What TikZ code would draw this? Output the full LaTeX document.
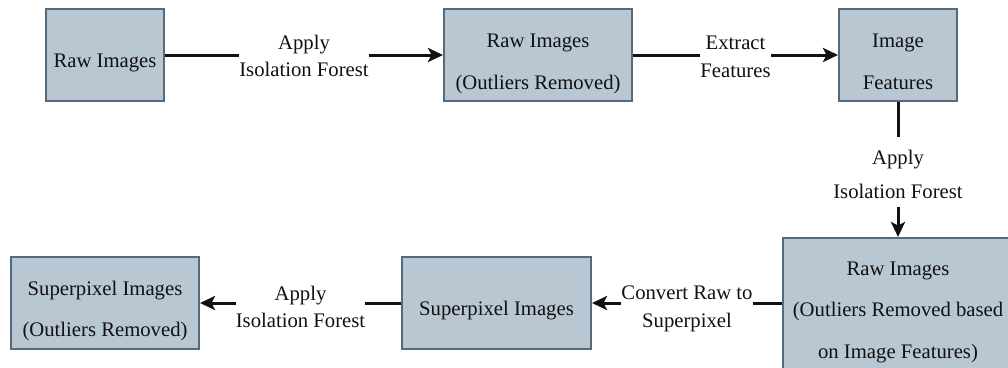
\documentclass[tikz,border=0pt]{standalone}
\usepackage{fontspec}
\setmainfont{Liberation Serif}
\usetikzlibrary{arrows.meta}
\definecolor{boxfill}{HTML}{B9C7D3}
\definecolor{boxline}{HTML}{566A7E}
\definecolor{ink}{HTML}{111111}
\newcommand\upS[1]{\rule{0pt}{#1pt}}
\newcommand\dnS[1]{\rule[-#1pt]{0pt}{#1pt}}
\begin{document}
\begin{tikzpicture}[x=1pt,y=-1pt,
  box/.style={draw=boxline, line width=2pt, fill=boxfill, inner sep=0pt, align=center, text=ink},
  lbl/.style={fill=white, inner sep=0pt, align=center, text=ink},
  conn/.style={draw=ink, line width=3pt, -{Stealth[length=15pt,width=14pt,inset=3.5pt]}},
]
\useasboundingbox (0,0) rectangle (1008,367);
\clip (0,0) rectangle (1008,367);

\node[box, minimum width=118pt, minimum height=92pt, font=\fontsize{20.7}{42.5}\selectfont] (b1) at (105,55)
  {\upS{29}\dnS{5}Raw Images};
\node[box, minimum width=188pt, minimum height=92pt, font=\fontsize{20.7}{42.5}\selectfont] (b2) at (538,55)
  {\upS{32.5}Raw Images\\(Outliers Removed)\dnS{6}};
\node[box, minimum width=118pt, minimum height=92pt, font=\fontsize{20.7}{42.5}\selectfont] (b3) at (898,55)
  {\upS{32.5}Image\\Features\dnS{6}};
\node[box, minimum width=230pt, minimum height=136pt, font=\fontsize{20.7}{41.2}\selectfont] (b4) at (898,306)
  {\upS{27.7}Raw Images\\(Outliers Removed based\\on Image Features)\dnS{6}};
\node[box, minimum width=189pt, minimum height=92pt, font=\fontsize{20.7}{42}\selectfont] (b5) at (496.5,303)
  {\upS{30}\dnS{6}Superpixel Images};
\node[box, minimum width=188pt, minimum height=92pt, font=\fontsize{20.7}{41.7}\selectfont] (b6) at (105,303)
  {\upS{31.7}Superpixel Images\\(Outliers Removed)\dnS{6}};

\path[conn] (b1) -- node[lbl, font=\fontsize{20.7}{27.3}\selectfont] (l1)
  {\upS{18.4}Apply\\Isolation Forest\dnS{2}} (b2);
\path[conn] (b2) -- node[lbl, font=\fontsize{20.7}{28}\selectfont] (l2)
  {\upS{18.6}Extract\\Features\dnS{2}} (b3);
\path[conn] (b3) -- node[lbl, pos=0.52, font=\fontsize{20.7}{34}\selectfont] (l3)
  {\upS{27}Apply\\Isolation Forest\dnS{9}} (b4);
\path[conn] (b4.west |- b5) -- node[lbl, font=\fontsize{20.7}{27.4}\selectfont] (l4)
  {\upS{26.6}Convert Raw to\\Superpixel\dnS{6}} (b5);
\path[conn] (b5) -- node[lbl, font=\fontsize{20.7}{27}\selectfont] (l5)
  {\upS{23.6}Apply\\Isolation Forest\dnS{2}} (b6);
\end{tikzpicture}
\end{document}
